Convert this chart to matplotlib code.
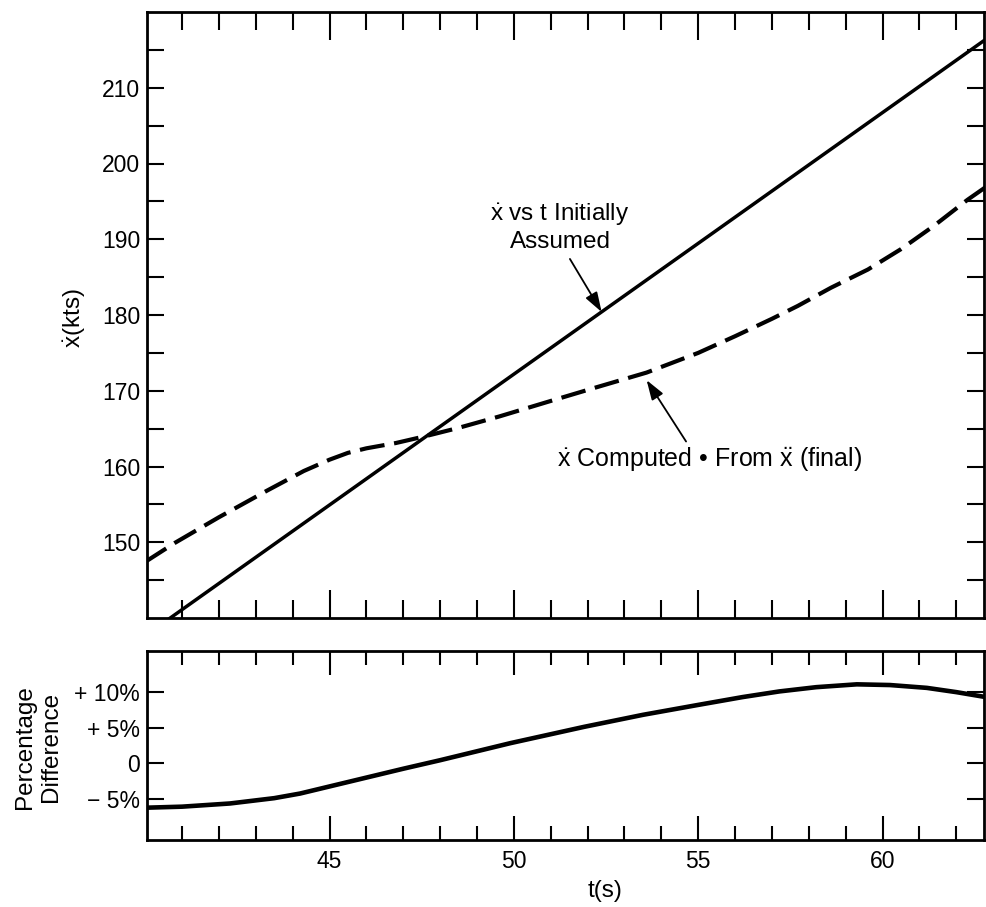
import matplotlib
matplotlib.use("Agg")
import matplotlib.pyplot as plt
from matplotlib.ticker import FixedLocator, MultipleLocator, NullFormatter

plt.rcParams['font.family'] = ['Liberation Sans', 'DejaVu Sans']
plt.rcParams['mathtext.fontset'] = 'custom'
plt.rcParams['mathtext.rm'] = 'Liberation Sans'
plt.rcParams['mathtext.it'] = 'Liberation Sans'
plt.rcParams['mathtext.default'] = 'regular'
plt.rcParams['lines.scale_dashes'] = False

# ---------------- data ----------------
# x-dot vs t initially assumed (straight line)
assumed_t = [40.0, 62.8]
assumed_v = [137.65, 216.4]

# x-dot computed from x-double-dot (final)
computed_t = [40.0, 40.8, 42.0, 43.3, 44.3, 45.0, 45.5, 46.0, 46.8, 47.6, 48.5, 49.6,
              51.1, 52.2, 53.6, 55.0, 56.0, 57.0, 57.7, 58.6, 59.6, 60.5, 61.4, 62.3, 62.8]
computed_v = [147.4, 149.9, 153.3, 156.8, 159.4, 160.9, 161.8, 162.4, 163.1, 164.0, 165.1, 166.6,
              168.8, 170.4, 172.4, 175.0, 177.2, 179.5, 181.2, 183.6, 186.0, 188.7, 191.8, 195.2, 196.9]

# percentage difference
pct_t = [40.0, 41.0, 42.3, 43.5, 44.2, 45.0, 46.0, 47.0, 48.0, 49.9, 51.9,
         53.5, 55.0, 56.2, 57.2, 58.2, 59.3, 60.2, 61.2, 62.0, 62.8]
pct_v = [-6.3, -6.15, -5.7, -4.95, -4.3, -3.3, -2.05, -0.8, 0.4, 2.8, 5.1,
         6.8, 8.2, 9.3, 10.1, 10.7, 11.1, 11.0, 10.6, 10.0, 9.3]

top_yticks = [150, 160, 170, 180, 190, 200, 210]
top_yminor = [145, 155, 165, 175, 185, 195, 205, 215]
bot_yticks = [-5, 0, 5, 10]
bot_ylabels = ['\u2212 5%', '0', '+ 5%', '+ 10%']
x_ticks = [45, 50, 55, 60]
x_ticklabels = ['45', '50', '55', '60']

# ---------------- figure ----------------
W, H = 986, 907
fig = plt.figure(figsize=(W / 100, H / 100), dpi=100)

def fx(px):
    return px / W

def fy(py):
    return 1 - py / H

ax1 = fig.add_axes([fx(147), fy(618), fx(984) - fx(147), fy(12) - fy(618)])
ax2 = fig.add_axes([fx(147), fy(840), fx(984) - fx(147), fy(651) - fy(840)])

XLIM = (40.05, 62.75)
LAB = 16.5

for ax in (ax1, ax2):
    ax.set_xlim(*XLIM)
    for s in ax.spines.values():
        s.set_linewidth(2.0)
    ax.xaxis.set_major_locator(FixedLocator(x_ticks))
    ax.xaxis.set_minor_locator(MultipleLocator(1))
    ax.xaxis.set_minor_formatter(NullFormatter())
    ax.tick_params(axis='both', which='both', direction='in', top=True, bottom=True,
                   left=True, right=True, width=1.5, color='black')

# top panel
ax1.plot(assumed_t, assumed_v, color='black', lw=2.5, solid_capstyle='butt')
ax1.plot(computed_t, computed_v, color='black', lw=3.0, dashes=(18, 7),
         dash_capstyle='butt', dash_joinstyle='round')
ax1.set_ylim(140, 220)
ax1.yaxis.set_major_locator(FixedLocator(top_yticks))
ax1.yaxis.set_minor_locator(FixedLocator(top_yminor))
ax1.yaxis.set_minor_formatter(NullFormatter())
ax1.tick_params(axis='x', which='major', length=20, labelbottom=False)
ax1.tick_params(axis='x', which='minor', length=13)
ax1.tick_params(axis='y', which='both', length=12, labelsize=LAB, pad=5)

# bottom panel
ax2.plot(pct_t, pct_v, color='black', lw=3.3, solid_capstyle='butt',
         solid_joinstyle='round')
ax2.set_ylim(-10.85, 15.8)
ax2.yaxis.set_major_locator(FixedLocator(bot_yticks))
ax2.set_yticklabels(bot_ylabels)
ax2.set_xticklabels(x_ticklabels)
ax2.tick_params(axis='x', which='major', length=17, labelsize=LAB, pad=7)
ax2.tick_params(axis='x', which='minor', length=10)
ax2.tick_params(axis='y', which='major', length=12, labelsize=LAB, pad=5)

# axis labels
fig.text(fx(75), fy(318), r'$\dot{x}$(kts)', rotation=90, ha='center', va='center',
         fontsize=17.5)
fig.text(fx(38), fy(747), 'Percentage\nDifference', rotation=90, ha='center',
         va='center', fontsize=17.5, linespacing=1.2, multialignment='center')
fig.text(fx(605), fy(891), 't(s)', ha='center', va='center', fontsize=17.5)

# annotations
ax1.text(51.25, 193.25, r'$\dot{x}$ vs t Initially', ha='center', va='center', fontsize=17.5)
ax1.text(51.25, 189.7, 'Assumed', ha='center', va='center', fontsize=17.5)
ax1.annotate('', xy=(52.38, 180.4), xytext=(51.52, 187.4),
             arrowprops=dict(arrowstyle='-|>,head_length=0.6,head_width=0.2',
                             mutation_scale=20, lw=1.3, color='black',
                             shrinkA=0, shrinkB=0))
ax1.text(55.3, 160.85, r'$\dot{x}$ Computed ' + '\u2022' + r' From $\ddot{x}$ (final)',
         ha='center', va='center', fontsize=18)
ax1.annotate('', xy=(53.6, 171.4), xytext=(54.67, 163.3),
             arrowprops=dict(arrowstyle='-|>,head_length=0.6,head_width=0.2',
                             mutation_scale=20, lw=1.3, color='black',
                             shrinkA=0, shrinkB=0))

fig.savefig('out.png', dpi=100, facecolor='white')
